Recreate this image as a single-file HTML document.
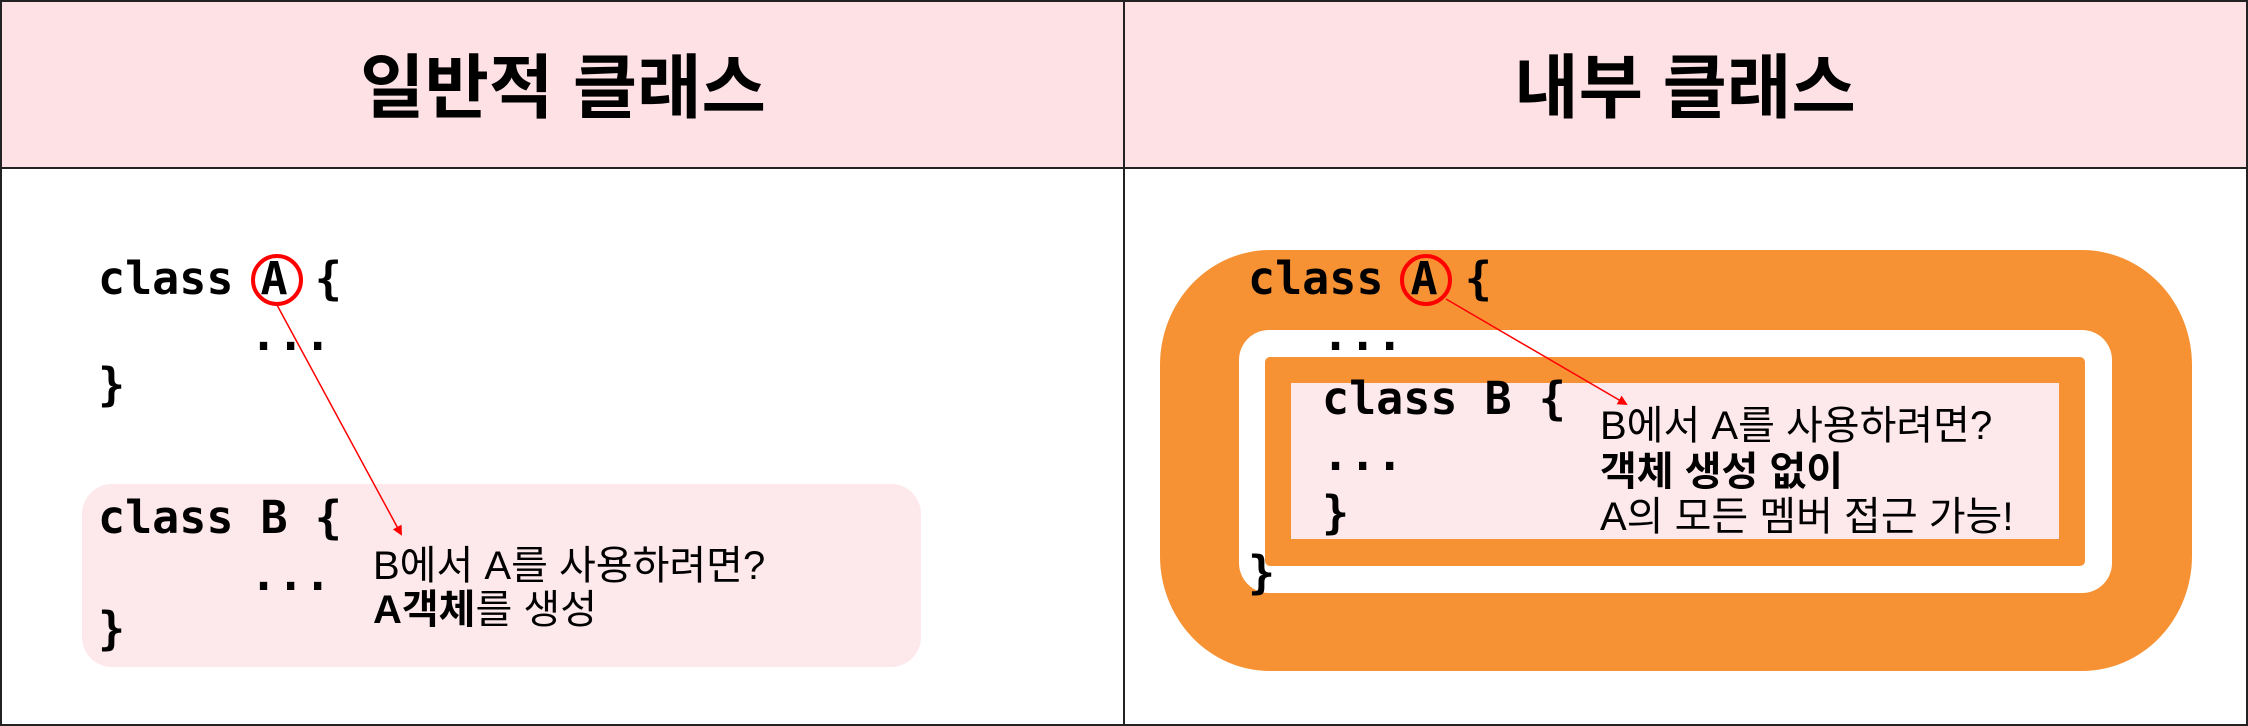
<!DOCTYPE html>
<html><head><meta charset="utf-8"><style>
html,body{margin:0;padding:0;background:#fff;}
svg{display:block;}
.mono{font-family:"DejaVu Sans Mono","Liberation Mono",monospace;font-weight:bold;font-size:45px;fill:#000;}
.ko{font-family:"Liberation Sans","Noto Sans CJK KR",sans-serif;font-size:40px;fill:#000;}
.title{font-family:"Liberation Sans","Noto Sans CJK KR",sans-serif;font-size:70px;font-weight:bold;fill:#000;}
</style></head><body>
<svg width="2248" height="726" viewBox="0 0 2248 726" xmlns="http://www.w3.org/2000/svg">
<defs><marker id="ah" markerWidth="10" markerHeight="10" refX="8" refY="5" orient="auto" markerUnits="userSpaceOnUse"><path d="M0,0 L10,5 L0,10 z" fill="#ff0000"/></marker></defs>
<rect x="1" y="1" width="2246" height="167" fill="#fde1e5"/>
<rect x="1" y="1" width="2246" height="724" fill="none" stroke="#222" stroke-width="2"/>
<line x1="0" y1="168" x2="2248" y2="168" stroke="#222" stroke-width="2"/>
<line x1="1124" y1="0" x2="1124" y2="726" stroke="#222" stroke-width="2"/>
<text x="563" y="112" text-anchor="middle" class="title">일반적 클래스</text>
<text x="1685" y="112" text-anchor="middle" class="title">내부 클래스</text>

<g>
<text x="98" y="294" class="mono" xml:space="preserve">class A {</text>
<circle cx="277" cy="280" r="24" fill="none" stroke="#ff0000" stroke-width="4"/>
<text x="250" y="350" class="mono">...</text>
<text x="98" y="400" class="mono">}</text>
<rect x="82" y="484" width="839" height="183" rx="30" fill="#fde8ec"/>
<text x="98" y="533" class="mono" xml:space="preserve">class B {</text>
<text x="250" y="590" class="mono">...</text>
<text x="98" y="644" class="mono">}</text>
<text x="373" y="579" class="ko">B에서 A를 사용하려면?</text>
<text x="373" y="623" class="ko"><tspan font-weight="bold">A객체</tspan>를 생성</text>
<line x1="277" y1="305" x2="401" y2="534" stroke="#ff0000" stroke-width="1.5" marker-end="url(#ah)"/>
</g>

<g>
<rect x="1160" y="250" width="1032" height="421" rx="110" ry="115" fill="#f79234"/>
<rect x="1239" y="330" width="873" height="263" rx="30" fill="#fff"/>
<rect x="1265" y="357" width="820" height="209" rx="5" fill="#f79234"/>
<rect x="1291" y="383" width="768" height="156" fill="#fde8ec"/>
<text x="1248" y="294" class="mono" xml:space="preserve">class A {</text>
<circle cx="1426" cy="280" r="24" fill="none" stroke="#ff0000" stroke-width="4"/>
<text x="1322" y="350" class="mono">...</text>
<text x="1322" y="414" class="mono" xml:space="preserve">class B {</text>
<text x="1322" y="470" class="mono">...</text>
<text x="1322" y="528" class="mono">}</text>
<text x="1248" y="588" class="mono">}</text>
<text x="1600" y="439" class="ko">B에서 A를 사용하려면?</text>
<text x="1600" y="485" class="ko" font-weight="bold">객체 생성 없이</text>
<text x="1600" y="530" class="ko">A의 모든 멤버 접근 가능!</text>
<line x1="1446" y1="299" x2="1626" y2="404" stroke="#ff0000" stroke-width="1.5" marker-end="url(#ah)"/>
</g>
</svg>
</body></html>
